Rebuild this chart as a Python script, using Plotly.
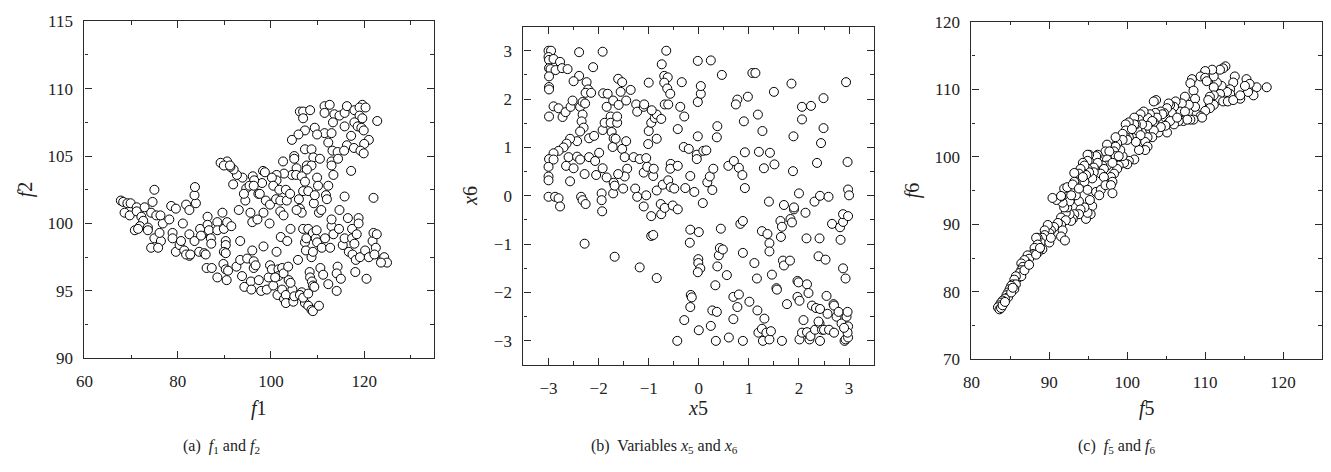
import plotly.graph_objects as go

# ---------------- Panel (a): f1 vs f2 ----------------
f1 = [119.6,122.8,111.5,112.6,106.2,106.9,108.4,106.9,111.5,113.6,114.7,115.8,116.3,117.9,119.0,120.3,119.0,119.6,115.8,113.3,
      117.9,118.6,119.4,119.9,109.4,107.3,105.9,104.5,111.5,113.0,109.9,117.2,121.0,120.0,116.3,117.8,119.2,119.9,112.3,107.3,
      108.7,113.2,114.3,115.7,105.0,105.0,109.1,110.5,113.0,114.4,113.0,107.7,108.7,105.5,107.7,117.2,113.4,109.9,104.5,105.4,
      106.6,107.3,102.6,102.8,101.2,101.2,100.2,98.3,98.7,98.1,96.1,96.4,93.9,92.7,92.0,91.3,90.6,89.2,89.9,91.2,110.1,
      67.8,68.3,69.2,69.9,68.6,69.7,71.2,72.9,71.2,75.0,74.6,74.3,72.2,72.6,71.9,70.8,71.5,73.6,73.6,75.0,
      76.4,76.1,76.8,75.4,76.3,74.3,75.8,78.2,78.6,79.6,78.9,78.9,79.6,80.4,80.7,81.1,81.8,82.5,83.9,83.6,
      83.7,81.4,82.5,81.8,82.7,82.5,83.6,84.6,85.3,84.8,85.0,85.7,86.0,86.4,86.4,86.7,87.1,86.2,87.3,87.2,
      88.5,88.5,88.5,89.6,89.9,90.6,90.3,90.3,89.9,90.3,89.8,90.3,90.8,90.5,91.5,91.9,92.6,93.1,93.4,93.4,
      93.8,94.5,94.9,94.3,94.7,94.2,95.6,95.4,96.3,96.0,96.3,96.3,96.7,95.7,95.8,96.0,97.1,97.3,97.6,97.4,
      97.9,98.4,98.4,98.9,99.8,99.1,99.5,99.8,100.2,100.5,101.1,100.5,101.2,101.6,101.6,100.9,101.4,101.8,102.0,102.0,
      102.7,102.1,102.4,102.7,102.4,102.8,103.2,103.4,103.5,103.7,103.2,103.2,104.1,103.8,104.6,104.2,104.2,104.8,105.0,105.8,
      106.0,106.2,106.6,106.9,107.3,106.9,106.6,106.2,107.3,106.9,108.0,108.0,107.6,107.5,108.0,108.0,108.7,109.0,108.3,108.4,
      108.8,109.0,109.3,108.7,109.0,109.0,109.6,109.9,109.8,109.2,109.4,110.3,110.3,110.8,110.6,111.2,110.9,111.6,111.8,112.0,
      112.3,112.3,112.7,113.0,113.4,114.1,114.3,114.1,114.7,115.0,115.4,115.8,115.8,116.5,116.7,117.4,117.4,117.5,117.9,118.2,
      118.1,118.4,118.8,118.8,119.1,120.2,120.5,121.0,121.8,122.0,122.7,122.5,122.2,122.0,123.8,124.3,124.9,123.6,114.6,113.0,
      105.5,99.7]
f2 = [108.8,107.6,108.7,108.8,108.3,108.3,108.4,107.8,108.2,108.1,108.0,108.2,108.7,108.4,108.6,108.6,108.0,107.8,107.2,107.5,
      107.5,107.2,107.1,106.9,107.1,106.9,106.6,106.2,106.7,106.7,106.6,106.5,106.2,105.9,105.8,105.6,105.4,105.2,106.0,105.5,
      105.5,105.4,105.3,105.4,105.0,104.8,104.9,104.8,104.6,104.8,104.3,104.3,104.3,104.1,104.0,103.9,103.6,103.4,103.6,103.6,
      103.5,103.1,104.6,103.7,103.6,103.2,103.4,103.9,103.8,103.0,103.5,103.2,103.4,103.6,104.0,104.2,104.6,104.5,104.3,104.3,102.8,
      101.7,101.6,101.5,101.5,100.8,100.6,101.2,101.2,100.9,102.5,101.6,100.8,100.5,100.2,99.8,99.5,99.6,99.7,99.5,98.9,
      98.7,99.3,100.0,100.6,100.6,98.2,98.2,100.3,101.3,101.1,99.3,98.9,97.9,98.4,98.7,100.0,101.4,101.0,101.5,102.1,
      102.7,98.0,97.6,97.7,97.7,99.2,98.7,97.9,99.2,99.6,99.1,97.8,97.7,100.5,99.9,99.5,98.9,96.7,96.7,98.5,
      96.0,100.1,99.5,100.8,99.6,100.1,98.7,98.4,97.9,97.8,97.0,96.6,96.5,95.8,99.8,102.9,96.8,101.0,97.3,98.7,
      96.1,101.7,97.4,95.3,102.6,102.2,100.8,102.8,102.8,98.0,97.2,96.7,96.9,95.7,95.1,100.1,100.3,102.2,102.2,95.8,
      95.0,100.8,98.3,101.7,101.4,95.1,96.0,96.9,96.6,102.8,101.8,95.4,97.9,96.6,96.1,96.0,94.7,102.5,101.7,100.9,
      100.6,99.0,96.7,96.3,95.1,94.4,102.5,101.7,98.7,96.8,94.7,94.1,102.2,95.8,95.1,95.6,99.6,94.2,94.6,97.3,
      101.8,101.1,100.8,102.4,98.6,99.6,94.9,94.7,94.1,94.5,102.4,99.6,98.9,98.0,94.8,93.9,93.6,93.5,96.4,96.0,
      95.7,95.4,95.3,97.5,97.9,99.3,98.9,98.6,99.5,101.5,102.1,93.9,100.8,101.0,96.7,96.2,98.2,98.9,102.1,101.8,
      102.8,95.5,98.2,99.8,99.2,95.0,96.8,96.3,101.0,95.9,98.4,98.9,102.0,100.4,97.9,98.9,99.6,97.7,98.5,97.3,
      96.4,99.2,100.4,100.0,97.5,98.0,95.9,97.5,98.7,99.3,99.2,98.2,97.7,101.9,97.3,97.5,97.1,97.1,99.6,100.3,
      101.0,100.0]

# ---------------- Panel (b): x5 vs x6 ----------------
x5 = [-3.0,-2.95,-3.0,-2.99,-2.9,-2.77,-2.99,-2.96,-2.86,-2.73,-2.62,-2.99,-2.99,-2.99,-2.39,-1.92,-2.11,-2.39,-2.5,-2.24,
      -2.21,-2.26,-2.15,-2.99,-2.9,-2.8,-2.72,-2.66,-2.56,-2.52,-2.37,-2.32,-2.27,-2.32,-2.34,-2.3,-2.37,-2.43,-2.57,-2.64,
      -2.7,-2.8,-2.9,-2.99,-2.9,-3.0,-3.0,-3.0,-2.6,-2.65,-2.5,-2.43,-2.37,-2.28,-2.57,-2.19,-2.09,-2.19,-2.07,-1.99,
      -2.05,-1.92,-1.92,-1.88,-1.91,-1.82,-1.84,-1.76,-1.76,-1.74,-1.7,-1.72,-1.66,-1.71,-1.6,-1.63,-1.63,-1.61,-1.53,-1.56,
      -1.45,-1.36,-1.53,-1.45,-1.48,-1.43,-1.48,-1.61,-1.84,-1.7,-1.3,-1.25,-1.23,-1.18,-1.1,-1.09,-1.05,-1.01,-0.84,-1.0,
      -0.95,-0.88,-0.84,-0.75,-0.94,-1.0,-1.1,-1.03,-0.91,-0.9,-0.84,-0.74,-0.69,-0.62,-0.65,-0.69,-0.63,-0.57,-0.68,-0.61,
      -0.72,-0.61,-0.56,-0.56,-0.57,-0.42,-0.42,-0.37,-0.29,-0.34,-0.27,-0.17,-0.3,-0.2,-0.04,-0.04,-0.02,-0.02,0.04,-0.02,
      0.04,0.09,0.15,0.24,0.17,0.22,0.27,0.29,0.37,0.36,0.46,0.59,0.7,0.8,0.77,0.74,0.87,0.92,0.9,0.98,
      1.07,1.13,1.18,1.2,1.27,1.3,1.42,1.5,1.51,1.85,1.89,1.88,2.06,2.06,2.24,2.49,2.49,2.44,2.36,2.94,
      2.97,
      -3.0,-2.87,-2.8,-2.77,-2.35,-2.32,-2.26,-2.28,-1.94,-1.94,-1.93,-1.71,-1.68,-1.51,-1.68,-1.27,-1.23,-1.1,-1.05,-1.18,
      -0.95,-0.95,-0.91,-0.84,-0.76,-0.75,-0.68,-0.52,-0.42,-0.49,-0.17,-0.18,-0.29,-0.17,-0.16,-0.14,-0.43,-0.01,-0.01,0.03,
      -0.02,0.0,0.0,0.08,-0.09,0.24,0.27,0.36,0.33,0.37,0.4,0.42,0.48,0.44,0.34,0.56,0.6,0.69,0.77,0.8,
      0.69,0.83,0.88,0.88,0.92,0.88,1.01,1.11,1.16,1.17,1.19,1.26,1.28,1.31,1.35,1.41,1.44,1.26,1.37,1.41,
      1.41,1.4,1.46,1.55,1.56,1.63,1.64,1.66,1.66,1.7,1.68,1.7,1.82,1.76,1.83,1.86,1.9,1.9,1.97,1.99,
      1.97,2.01,2.01,2.0,2.06,2.09,2.13,2.15,2.16,2.19,2.16,2.21,2.23,2.26,2.32,2.34,2.31,2.39,2.41,2.41,
      2.42,2.39,2.42,2.46,2.42,2.5,2.53,2.55,2.57,2.6,2.59,2.66,2.69,2.7,2.7,2.75,2.79,2.82,2.83,2.85,
      2.88,2.88,2.88,2.91,2.93,2.93,2.95,2.97,2.98,2.98,2.98,2.98,3.0,2.97,2.9]
x6 = [3.0,3.0,2.87,2.81,2.83,2.77,2.64,2.62,2.6,2.64,2.62,2.47,2.25,2.2,2.97,2.98,2.66,2.48,2.37,2.35,
      2.2,2.13,2.13,1.64,1.85,1.81,1.63,1.73,1.84,1.97,1.84,1.94,1.91,1.68,1.54,1.41,1.33,1.13,1.18,1.08,
      1.0,0.93,0.88,0.76,0.75,0.6,0.4,0.32,0.8,0.62,0.57,0.81,0.75,0.45,0.3,1.19,1.24,0.8,0.72,0.89,
      0.43,0.57,1.36,1.51,2.12,2.11,1.84,1.64,1.51,1.32,1.19,1.01,1.18,1.97,1.88,1.51,1.64,2.42,2.35,2.15,
      1.97,2.19,0.97,1.13,0.8,0.56,0.4,0.45,0.38,0.27,0.8,1.89,1.74,0.76,1.84,1.89,0.78,1.07,1.18,1.34,
      1.51,1.61,1.68,1.59,1.77,2.34,0.48,0.6,0.41,0.56,0.11,2.72,2.48,2.45,3.0,2.34,2.22,2.11,1.89,1.89,
      0.23,0.32,0.18,0.66,0.56,0.62,1.38,1.84,1.64,2.35,0.16,0.41,1.01,0.97,0.85,0.76,1.23,1.94,2.11,2.79,
      2.27,0.93,0.94,2.8,0.28,0.4,0.12,0.56,1.44,1.21,2.5,0.62,0.72,0.58,1.99,1.89,0.43,0.9,1.54,2.05,
      2.54,2.54,1.68,0.91,1.34,0.57,0.89,2.15,0.65,2.32,1.23,0.51,1.84,1.58,1.86,2.02,1.4,1.09,0.68,2.35,
      0.7,
      -0.02,-0.02,-0.05,-0.22,-0.02,-0.09,-0.17,-0.99,0.05,-0.09,-0.32,0.05,0.21,0.15,-1.26,0.15,-0.02,-0.22,0.01,-1.48,
      -0.42,-0.83,-0.81,-1.7,-0.17,-0.38,-0.25,-0.2,-0.28,0.15,-0.7,-0.97,-2.57,-2.3,-2.05,-2.1,-3.0,-1.31,-1.39,-1.5,
      -1.58,-0.75,-2.78,-0.15,0.08,-2.69,-2.37,-2.4,-1.85,-1.46,-1.23,-1.08,-1.11,-0.68,-3.0,-1.64,-2.93,-2.09,-2.3,-2.04,
      -2.55,-0.58,-0.52,-1.18,0.16,-3.0,-2.19,-1.39,-1.71,-2.37,-2.83,-2.75,-3.0,-2.54,-2.83,-2.97,-2.8,-0.73,-0.79,-0.98,
      -1.15,-0.12,-1.63,-1.91,-1.94,-0.52,-0.85,-0.64,-3.0,-0.19,-1.34,-1.44,-1.34,-2.24,-0.48,-0.55,-0.28,-0.24,-1.76,-1.79,
      -2.09,-2.17,-2.97,0.05,-2.83,-2.57,-0.35,-0.88,-1.83,-2.01,-2.82,-2.97,-2.9,-2.27,-2.77,-2.32,-0.12,-1.25,-0.88,-2.64,
      -2.34,-2.6,-3.0,-2.77,0.0,-2.77,-1.32,-2.07,-2.44,-2.77,-0.02,-0.58,-2.24,-2.83,-2.27,-2.5,-2.4,-0.65,-0.91,-2.64,
      -1.5,-0.54,-0.38,-3.0,-1.71,-2.97,-2.5,-2.4,-2.7,-2.93,-0.42,0.13,0.01,-2.83,-2.73]

# ---------------- Panel (c): f5 vs f6 ----------------
f5 = [117.9,116.6,116.2,115.5,115.3,115.7,115.1,114.5,113.8,113.6,113.2,113.2,112.8,112.6,112.3,111.9,112.1,111.9,111.7,111.5,
      111.1,110.9,110.0,109.4,110.0,110.2,111.1,111.1,110.6,110.6,111.1,110.4,110.6,110.0,112.3,112.9,113.6,114.5,108.3,108.1,
      108.5,108.7,108.9,109.4,109.6,108.5,108.1,108.7,107.9,107.4,107.0,106.8,107.4,107.2,107.7,106.6,106.2,106.0,105.7,105.5,
      105.3,105.1,104.9,105.1,106.0,105.5,106.4,104.7,104.3,104.5,104.7,105.1,104.9,104.0,104.3,103.7,103.4,103.6,103.8,103.4,
      102.9,102.6,103.2,102.9,103.4,102.6,103.2,102.6,102.3,102.1,101.7,101.5,101.9,101.3,101.1,100.9,101.7,102.6,102.3,101.5,
      101.1,100.4,100.2,100.9,100.2,99.8,99.8,100.6,99.8,100.0,99.4,99.4,100.9,100.2,100.0,99.6,99.4,99.1,98.7,98.5,
      98.5,98.3,98.5,98.9,98.9,98.7,98.3,97.9,97.4,97.2,97.7,97.4,97.4,98.1,98.1,96.8,97.0,96.6,97.0,96.2,
      96.0,96.2,95.7,95.7,95.5,95.1,94.9,94.9,94.9,95.1,94.7,94.5,94.3,94.5,94.0,93.8,94.3,93.2,93.2,
      94.9,95.5,95.2,95.3,94.7,94.9,94.5,93.8,93.4,94.0,93.8,93.2,93.0,92.8,92.6,92.1,92.3,92.6,92.8,91.9,
      91.7,91.5,90.9,91.9,92.3,93.0,93.8,96.0,96.6,97.2,97.9,98.1,96.4,91.5,92.1,91.5,91.1,91.7,90.6,90.2,
      90.0,89.8,89.4,89.4,89.1,88.9,88.5,88.3,88.5,90.0,90.2,91.5,92.0,89.1,88.7,88.5,88.1,87.9,87.7,87.2,
      87.4,87.2,86.8,86.4,86.6,86.4,86.2,86.0,86.4,85.7,85.5,85.3,85.7,85.1,84.9,85.5,84.7,84.5,84.7,84.3,
      84.0,83.8,83.6,83.4,83.6,83.8,84.0,84.3,85.1,85.3,86.8,87.4,88.3,88.8,90.4,91.5]
f6 = [110.3,110.3,109.1,109.6,111.5,110.8,110.5,108.6,111.9,111.0,110.0,109.3,109.6,113.4,113.1,112.9,110.5,109.3,108.4,111.0,
      111.9,112.9,112.7,111.9,111.7,111.2,110.3,109.1,108.9,107.7,107.7,108.4,107.2,106.8,108.2,108.2,108.4,109.1,111.5,110.9,
      109.8,108.6,106.3,106.0,105.8,105.5,105.5,107.4,107.7,108.9,107.9,106.7,106.7,105.3,105.5,105.3,108.2,107.4,106.5,107.7,
      107.9,107.2,105.8,104.8,104.8,105.3,105.8,106.5,106.7,106.3,104.1,103.6,104.6,103.6,104.4,108.4,108.2,106.5,105.8,105.1,
      106.3,105.8,105.3,104.1,103.9,104.6,102.9,102.9,102.2,106.7,106.3,105.5,104.8,103.9,104.8,105.8,103.2,101.5,101.0,101.0,
      102.2,103.9,102.9,104.8,105.1,104.8,103.9,104.1,102.9,102.5,103.4,102.5,99.6,99.4,98.9,99.1,100.1,101.0,102.0,102.9,
      101.5,100.8,100.1,100.1,98.7,98.2,97.5,97.0,101.8,100.8,100.8,99.6,98.7,99.1,96.3,98.7,98.2,97.5,97.0,100.3,
      100.1,99.1,98.4,97.7,96.8,100.3,100.3,99.4,98.2,97.7,97.3,96.3,99.1,98.7,98.2,97.5,97.0,97.6,96.3,
      95.1,92.7,93.6,91.5,90.8,91.7,92.5,93.4,94.3,92.2,91.5,91.5,90.8,90.5,91.5,91.7,92.5,93.4,94.3,92.5,
      93.2,94.1,93.6,95.3,95.5,95.9,95.3,94.8,95.1,95.8,95.8,94.6,94.3,91.0,90.6,89.9,90.2,89.1,89.6,89.1,
      88.7,89.9,89.1,88.4,88.0,87.3,88.0,88.0,87.0,87.3,88.0,88.2,87.6,86.3,86.3,85.8,86.5,85.6,85.4,85.4,
      84.9,84.2,84.7,84.2,83.7,83.2,82.8,82.1,82.3,82.3,81.8,81.1,81.1,80.9,80.4,80.4,79.9,79.5,79.2,79.0,
      78.7,78.4,78.0,77.7,77.4,77.6,78.0,78.5,79.9,80.6,83.2,84.0,85.5,86.5,93.9,94.2]

W, H = 1331, 472
SERIF = "Liberation Serif"
AX = "#2a2a2a"


def px_x(p):
    return p / W


def px_y(p):
    return 1 - p / H


marker = dict(symbol="circle", size=9, color="white", line=dict(color="black", width=1))

fig = go.Figure()
fig.add_trace(go.Scatter(x=f1, y=f2, mode="markers", marker=marker, xaxis="x", yaxis="y", showlegend=False))
fig.add_trace(go.Scatter(x=x5, y=x6, mode="markers", marker=marker, xaxis="x2", yaxis="y2", showlegend=False))
fig.add_trace(go.Scatter(x=f5, y=f6, mode="markers", marker=marker, xaxis="x3", yaxis="y3", showlegend=False))


def axis(rng, dtick, minor, domain, anchor, tick0=None):
    d = dict(
        range=rng, domain=domain, anchor=anchor, dtick=dtick,
        tick0=rng[0] if tick0 is None else tick0,
        showline=True, linecolor=AX, linewidth=1.3, mirror="ticks",
        ticks="inside", ticklen=7, tickwidth=1.1, tickcolor=AX,
        minor=dict(ticks="inside", ticklen=3.5, tickwidth=1.1, tickcolor=AX, dtick=minor, showgrid=False),
        showgrid=False, zeroline=False,
        tickfont=dict(family=SERIF, size=17, color="#222"),
        ticklabelstandoff=7,
    )
    return d


fig.update_layout(
    width=W, height=H,
    margin=dict(l=0, r=0, t=0, b=0),
    paper_bgcolor="white", plot_bgcolor="white",
    xaxis=axis([60, 135], 20, 10, [px_x(76), px_x(428)], "y"),
    yaxis=axis([90, 115], 5, 2.5, [px_y(364), px_y(12.7)], "x"),
    xaxis2=axis([-3.5, 3.5], 1, 0.5, [px_x(518), px_x(871)], "y2", tick0=-3),
    yaxis2=axis([-3.5, 3.5], 1, 0.5, [px_y(371), px_y(18.3)], "x2", tick0=-3),
    xaxis3=axis([80, 125], 10, 5, [px_x(969), px_x(1322)], "y3"),
    yaxis3=axis([70, 120], 10, 5, [px_y(365), px_y(13.3)], "x3"),
)

ann = []
tf = dict(family=SERIF, size=20, color="#222")
# x-axis titles
for cx, txt in [(252, "<i>f</i>1"), (694, "<i>x</i>5"), (1146, "<i>f</i>5")]:
    ann.append(dict(x=px_x(cx), y=px_y(416), xref="paper", yref="paper", text=txt, showarrow=False,
                    font=tf, xanchor="center", yanchor="middle"))
# y-axis titles
for cx, cy, txt in [(17, 188, "<i>f</i>2"), (464, 195, "<i>x</i>6"), (910, 189, "<i>f</i>6")]:
    ann.append(dict(x=px_x(cx), y=px_y(cy), xref="paper", yref="paper", text=txt, showarrow=False,
                    font=tf, textangle=-90, xanchor="center", yanchor="middle"))
# captions
cf = dict(family=SERIF, size=16, color="#222")
for cx, txt in [(214, "(a)  <i>f</i><sub>1</sub> and <i>f</i><sub>2</sub>"),
                (660, "(b)  Variables <i>x</i><sub>5</sub> and <i>x</i><sub>6</sub>"),
                (1115, "(c)  <i>f</i><sub>5</sub> and <i>f</i><sub>6</sub>")]:
    ann.append(dict(x=px_x(cx), y=px_y(456), xref="paper", yref="paper", text=txt, showarrow=False,
                    font=cf, xanchor="center", yanchor="middle"))
fig.update_layout(annotations=ann)

fig.write_html("out.html")
